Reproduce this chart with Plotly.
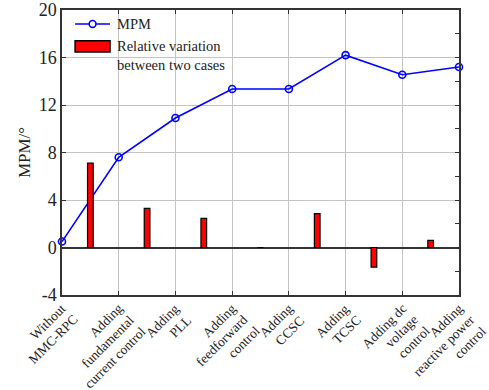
import plotly.graph_objects as go

category_lines = [
    ["Without", "MMC-RPC"],
    ["Adding", "fundamental", "current control"],
    ["Adding", "PLL"],
    ["Adding", "feedforward", "control"],
    ["Adding", "CCSC"],
    ["Adding", "TCSC"],
    ["Adding dc", "voltage", "control"],
    ["Adding", "reactive power", "control"],
]
mpm = [0.5, 7.6, 10.9, 13.35, 13.35, 16.2, 14.55, 15.2]
variation = [7.1, 3.3, 2.45, 0.0, 2.85, -1.65, 0.6]
y_ticks = [-4, 0, 4, 8, 12, 16, 20]
y_tick_labels = ["-4", "0", "4", "8", "12", "16", "20"]
line_legend_text = "MPM"
bar_legend_text = "Relative variation<br>between two cases"

xs = list(range(len(category_lines)))
bar_x = [i + 0.5 for i in range(len(variation))]

font_family = "Times New Roman, Liberation Serif, serif"

fig = go.Figure()
fig.add_trace(go.Scatter(
    x=xs, y=mpm, mode="lines+markers", name="MPM",
    line=dict(color="#0000ff", width=1.6),
    marker=dict(symbol="circle-open", size=7, color="#0000ff", line=dict(width=1.6)),
    cliponaxis=False, showlegend=False,
))
fig.add_trace(go.Bar(
    x=bar_x, y=variation, width=0.1, name="Relative variation",
    marker=dict(color="#ff0000", line=dict(color="#000000", width=1.2)),
    yaxis="y2", showlegend=False,
))

# legend drawn manually (line+circle sample, wide bar swatch)
fig.add_shape(type="line", xref="paper", yref="paper",
              x0=0.033, x1=0.121, y0=0.951, y1=0.951,
              line=dict(color="#0000ff", width=1.6))
fig.add_shape(type="circle", xref="paper", yref="paper",
              x0=0.0685, x1=0.0855, y0=0.939, y1=0.963,
              fillcolor="white", line=dict(color="#0000ff", width=1.6))
fig.add_annotation(x=0.133, y=0.951, xref="paper", yref="paper", text=line_legend_text,
                   showarrow=False, xanchor="left", yanchor="middle", align="left",
                   font=dict(size=14.5, family=font_family, color="#222222"))
fig.add_shape(type="rect", xref="paper", yref="paper",
              x0=0.033, x1=0.121, y0=0.853, y1=0.892,
              fillcolor="#ff0000", line=dict(color="#000000", width=1.5))
fig.add_annotation(x=0.133, y=0.84, xref="paper", yref="paper", text=bar_legend_text,
                   showarrow=False, xanchor="left", yanchor="middle", align="left",
                   font=dict(size=14.5, family=font_family, color="#222222"))

# rotated, right-aligned multi-line category labels (one annotation per line)
step = 11.5
for i, lines in enumerate(category_lines):
    for j, line in enumerate(lines):
        fig.add_annotation(
            x=i, y=0, xref="x", yref="paper", text=line, showarrow=False,
            textangle=-45, xanchor="right", yanchor="top",
            xshift=10 + step * j, yshift=-(3 + step * j),
            font=dict(size=13.5, family=font_family, color="#222222"),
        )

fig.update_layout(
    width=489, height=390,
    margin=dict(l=62, r=30, t=10, b=95, autoexpand=False),
    paper_bgcolor="white", plot_bgcolor="white",
    font=dict(family=font_family, color="#222222", size=14),
    showlegend=False,
    xaxis=dict(
        range=[0, 7], tickmode="array", tickvals=xs, showticklabels=False,
        showgrid=True, gridcolor="#c4c4c4", gridwidth=1, automargin=False,
        showline=True, linecolor="#333333", linewidth=1.5, mirror="ticks",
        ticks="inside", ticklen=4, tickcolor="#333333", zeroline=False,
    ),
    yaxis=dict(
        range=[-4, 20], tickmode="array", tickvals=y_ticks, ticktext=y_tick_labels,
        automargin=False,
        tickfont=dict(size=18, family=font_family), ticklabeloverflow="allow",
        title=dict(text="MPM/°", font=dict(size=17, family=font_family), standoff=4),
        showgrid=True, gridcolor="#c4c4c4", gridwidth=1,
        showline=True, linecolor="#333333", linewidth=1.5, mirror=True,
        ticks="inside", ticklen=4, tickcolor="#333333",
        zeroline=True, zerolinecolor="#333333", zerolinewidth=1.5,
    ),
    yaxis2=dict(
        range=[-4, 20], dtick=2, overlaying="y", side="right",
        showticklabels=False, showgrid=False, zeroline=False, automargin=False,
        ticks="inside", ticklen=4, tickcolor="#333333",
        showline=True, linecolor="#333333", linewidth=1.5,
    ),
)

fig.write_html("out.html")
